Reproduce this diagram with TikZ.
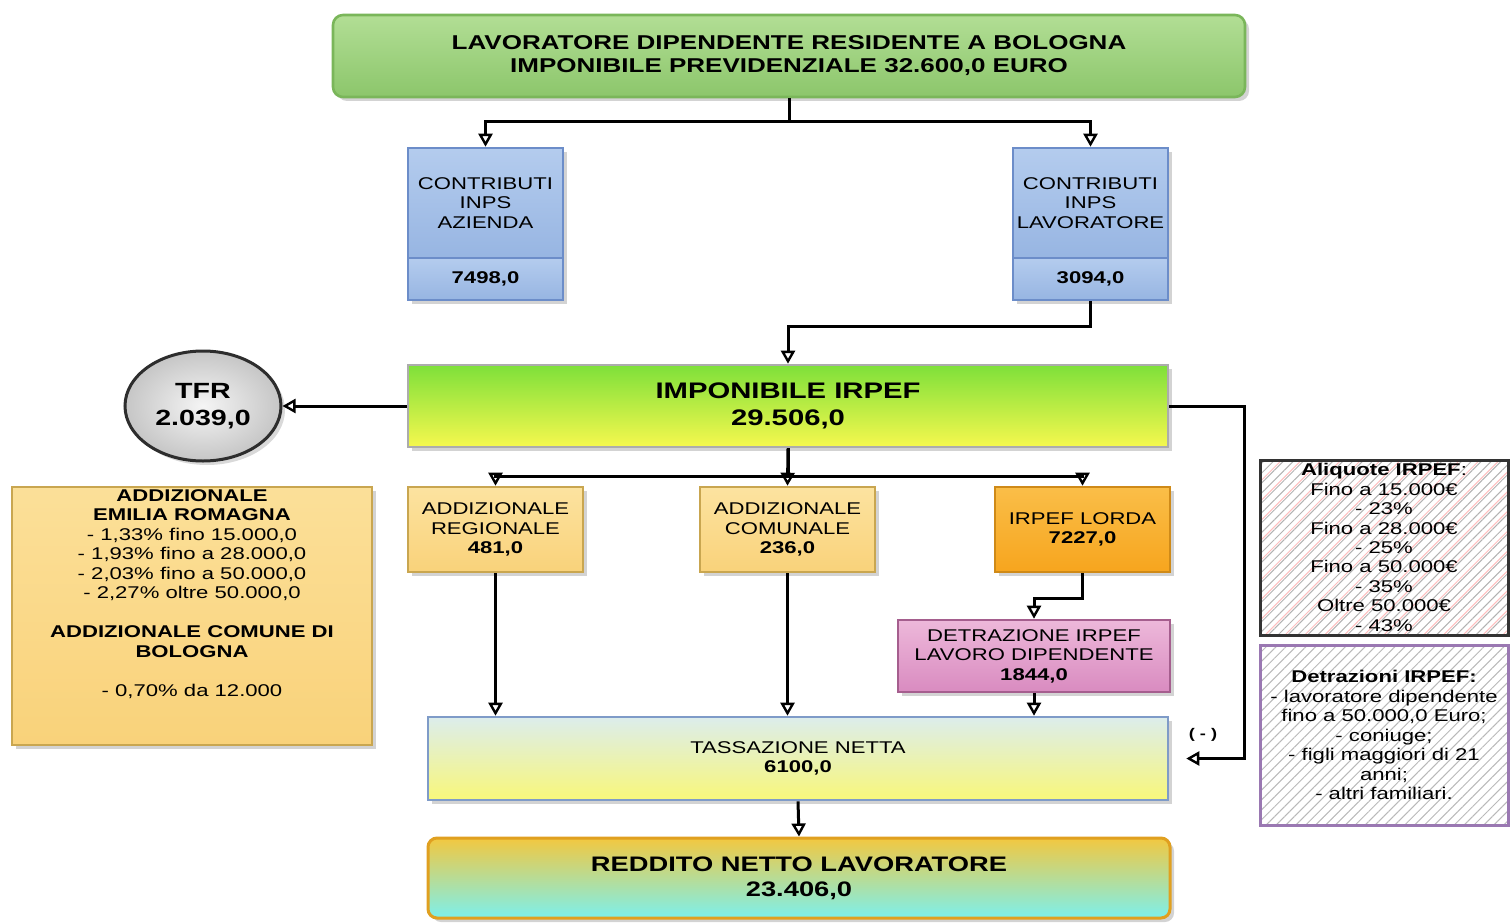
\documentclass[tikz,border=0pt]{standalone}
\usepackage{fontspec}
\setmainfont{Liberation Sans}[FakeStretch=1.3]
\usetikzlibrary{arrows.meta,shadows,patterns.meta,shapes.geometric}
\definecolor{gtop}{HTML}{B2DE95}
\definecolor{gbot}{HTML}{8CC66B}
\definecolor{gbrd}{HTML}{7AB65A}
\definecolor{btop}{HTML}{B4CCEE}
\definecolor{bbot}{HTML}{97B5E2}
\definecolor{bbrd}{HTML}{6C8DC9}
\definecolor{itop}{HTML}{7EE03A}
\definecolor{imid}{HTML}{C2EE44}
\definecolor{ibot}{HTML}{F6F84E}
\definecolor{ytop}{HTML}{FCE3A0}
\definecolor{ybot}{HTML}{F9D27A}
\definecolor{ybrd}{HTML}{C9A650}
\definecolor{otop}{HTML}{FABE48}
\definecolor{obot}{HTML}{F7A51E}
\definecolor{obrd}{HTML}{CF8A18}
\definecolor{ptop}{HTML}{EDB8DA}
\definecolor{pbot}{HTML}{D98BC0}
\definecolor{pbrd}{HTML}{A55E8E}
\definecolor{ttop}{HTML}{DCEDEC}
\definecolor{tbot}{HTML}{F8F77A}
\definecolor{tbrd}{HTML}{7F9BC8}
\definecolor{rtop}{HTML}{F2C840}
\definecolor{rmid}{HTML}{D9E690}
\definecolor{rbot}{HTML}{7DF0EC}
\definecolor{rbrd}{HTML}{E0A020}
\definecolor{vbrd}{HTML}{9A78B2}
\tikzset{
  box/.style={draw, line width=2.6pt, align=center, inner sep=2pt,
    drop shadow={shadow xshift=4pt, shadow yshift=-4pt, opacity=0.35}},
  txt/.style={font=\fontsize{17}{19.5}\selectfont},
  conn/.style={draw=black, line width=3pt,
    -{Triangle[open,length=13pt,width=14pt,line width=2.4pt]}},
}
\begin{document}
\begin{tikzpicture}[x=1pt,y=-1pt]
\useasboundingbox (0,0) rectangle (1511,923);

% top box
\node[box, draw=gbrd, top color=gtop, bottom color=gbot, rounded corners=10pt,
  minimum width=912pt, minimum height=82pt,
  font=\bfseries\fontsize{20}{23}\selectfont] (top) at (789,56)
  {LAVORATORE DIPENDENTE RESIDENTE A BOLOGNA\\IMPONIBILE PREVIDENZIALE 32.600,0 EURO};

% contributi
\node[box, txt, draw=bbrd, top color=btop, bottom color=bbot,
  minimum width=155pt, minimum height=110pt] (cA) at (485.5,203)
  {CONTRIBUTI\\INPS\\AZIENDA};
\node[box, txt, draw=bbrd, top color=btop, bottom color=bbot, font=\bfseries\fontsize{17}{19.5}\selectfont,
  minimum width=155pt, minimum height=42pt] (cAv) at (485.5,279) {7498,0};
\node[box, txt, draw=bbrd, top color=btop, bottom color=bbot,
  minimum width=155pt, minimum height=110pt] (cL) at (1090.5,203)
  {CONTRIBUTI\\INPS\\LAVORATORE};
\node[box, txt, draw=bbrd, top color=btop, bottom color=bbot, font=\bfseries\fontsize{17}{19.5}\selectfont,
  minimum width=155pt, minimum height=42pt] (cLv) at (1090.5,279) {3094,0};

% imponibile
\node[box, draw=gray!65, top color=itop, middle color=imid, bottom color=ibot,
  minimum width=760pt, minimum height=82pt,
  font=\bfseries\fontsize{22.5}{27}\selectfont] (imp) at (788,406)
  {IMPONIBILE IRPEF\\29.506,0};

% TFR
\node[ellipse, draw=gray!35!black, line width=3pt, inner color=gray!8, outer color=gray!45,
  minimum width=156pt, minimum height=110pt, align=center,
  drop shadow={shadow xshift=4pt, shadow yshift=-4pt, opacity=0.3},
  font=\bfseries\fontsize{22}{27}\selectfont] (tfr) at (203,406)
  {TFR\\2.039,0};

% addizionali
\node[box, txt, draw=ybrd, top color=ytop, bottom color=ybot,
  minimum width=175pt, minimum height=85pt] (aR) at (495.5,529.5)
  {ADDIZIONALE\\REGIONALE\\\textbf{481,0}};
\node[box, txt, draw=ybrd, top color=ytop, bottom color=ybot,
  minimum width=175pt, minimum height=85pt] (aC) at (787.5,529.5)
  {ADDIZIONALE\\COMUNALE\\\textbf{236,0}};
\node[box, txt, draw=obrd, top color=otop, bottom color=obot,
  minimum width=175pt, minimum height=85pt] (lorda) at (1082.5,529.5)
  {IRPEF LORDA\\\textbf{7227,0}};
\node[box, txt, draw=pbrd, top color=ptop, bottom color=pbot,
  minimum width=272pt, minimum height=72pt] (detr) at (1034,656)
  {DETRAZIONE IRPEF\\LAVORO DIPENDENTE\\\textbf{1844,0}};

% tassazione
\node[box, txt, draw=tbrd, top color=ttop, bottom color=tbot,
  minimum width=740pt, minimum height=83pt] (tass) at (798,758.5)
  {TASSAZIONE NETTA\\\textbf{6100,0}};

% reddito
\node[box, draw=rbrd, top color=rtop, middle color=rmid, bottom color=rbot, rounded corners=9pt,
  line width=3pt, minimum width=742pt, minimum height=80pt,
  font=\bfseries\fontsize{21}{25}\selectfont] (redd) at (799,878)
  {REDDITO NETTO LAVORATORE\\23.406,0};

% left info box
\node[box, draw=ybrd, top color=ytop!80!ybot, bottom color=ybot,
  minimum width=360pt, minimum height=258pt] (left) at (192,616) {};
\node[txt, align=center, anchor=north, inner sep=0pt] (lefttxt) at (192,489)
  {\textbf{ADDIZIONALE}\\\textbf{EMILIA ROMAGNA}\\- 1,33\% fino 15.000,0\\- 1,93\% fino a 28.000,0\\- 2,03\% fino a 50.000,0\\- 2,27\% oltre 50.000,0\\[19.5pt]\textbf{ADDIZIONALE COMUNE DI}\\\textbf{BOLOGNA}\\[19.5pt]- 0,70\% da 12.000};

% right info boxes
\node[draw=black!80, line width=3pt, align=center, inner sep=0pt,
  preaction={pattern={Lines[angle=45,distance=14pt,line width=1pt,xshift=7pt]}, pattern color=red!25},
  pattern={Lines[angle=45,distance=7pt,line width=1pt]}, pattern color=gray!60,
  minimum width=248pt, minimum height=175pt,
  font=\fontsize{17}{19.4}\selectfont] (aliq) at (1384,547.5)
  {\textbf{Aliquote IRPEF}:\\Fino a 15.000€\\- 23\%\\Fino a 28.000€\\- 25\%\\Fino a 50.000€\\- 35\%\\Oltre 50.000€\\- 43\%};
\node[draw=vbrd, line width=3pt, align=center, inner sep=0pt,
  pattern={Lines[angle=45,distance=7pt,line width=1pt]}, pattern color=gray!55,
  minimum width=248pt, minimum height=180pt,
  font=\fontsize{17}{19.5}\selectfont] (detrz) at (1384,735)
  {\textbf{Detrazioni IRPEF:}\\- lavoratore dipendente\\fino a 50.000,0 Euro;\\- coniuge;\\- figli maggiori di 21\\anni;\\- altri familiari.};
\node[font=\bfseries\fontsize{14}{16}\selectfont] (minus) at (1203,735) {( - )};

% connectors
\draw[conn] (top.south) -- ++(0,23) -| (cA.north);
\draw[conn] (top.south) -- ++(0,23) -| (cL.north);
\draw[conn] (cLv.south) -- ++(0,25) -| (imp.north);
\draw[conn] (imp.west) -- (tfr.east);
\draw[conn] (imp.south) -- ++(0,28) -| (aR.north);
\draw[conn] (imp.south) -- (aC.north);
\draw[conn] (imp.south) -- ++(0,28) -| (lorda.north);
\draw[conn] (lorda.south) -- ++(0,25) -| (detr.north);
\draw[conn] (aR.south) -- (aR.south |- tass.north);
\draw[conn] (aC.south) -- (aC.south |- tass.north);
\draw[conn] (detr.south) -- (detr.south |- tass.north);
\coordinate (fb) at ([xshift=17pt]tass.east);
\draw[conn] (imp.east) -- ++(75,0) |- (fb);
\draw[conn] (tass.south) -- (redd.north);
\end{tikzpicture}
\end{document}
